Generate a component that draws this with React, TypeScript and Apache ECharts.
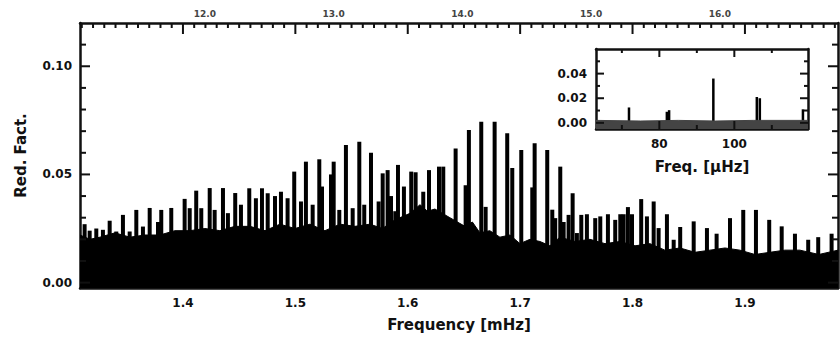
import React, { useEffect, useRef } from "react";
import * as echarts from "echarts";

// ---- main spectrum (frequency in mHz) ----
const FREQ_MIN = 1.3084;
const FREQ_MAX = 1.9828;
const POWER_MIN = -0.0025;
const POWER_MAX = 0.12;
const freqMajorTicks = [1.4, 1.5, 1.6, 1.7, 1.8, 1.9];

// alternative scale printed above the frame
const TOP_MIN = 11.03;
const TOP_MAX = 16.917;
const topTickValues = [12, 13, 14, 15, 16];
const topTickLabels = ["12.0", "13.0", "14.0", "15.0", "16.0"];

const powerMajorTicks = [0, 0.05, 0.1];
const powerMinorTicks = [0.01, 0.02, 0.03, 0.04, 0.06, 0.07, 0.08, 0.09, 0.11];

// individual peaks of the spectrum
const spikeFreq = [
  1.3125, 1.317, 1.3229, 1.3288, 1.3348, 1.3407, 1.3466, 1.3526, 1.3585, 1.3644,
  1.3704, 1.3778, 1.3807, 1.3896, 1.4015, 1.406, 1.4118, 1.4163, 1.4238, 1.4282,
  1.4356, 1.44, 1.4465, 1.4516, 1.459, 1.4649, 1.4703, 1.4754, 1.4819, 1.4872,
  1.4931, 1.499, 1.505, 1.5094, 1.5154, 1.5213, 1.5237, 1.5317, 1.5341, 1.5391,
  1.545, 1.551, 1.5569, 1.5613, 1.5673, 1.5741, 1.5777, 1.5821, 1.5851, 1.5889,
  1.5913, 1.5966, 1.6031, 1.607, 1.6138, 1.6189, 1.6278, 1.6316, 1.6426, 1.6515,
  1.6544, 1.6654, 1.6693, 1.6773, 1.6885, 1.693, 1.701, 1.7108, 1.7129, 1.7241,
  1.7286, 1.7312, 1.7357, 1.7387, 1.7431, 1.7467, 1.7505, 1.7544, 1.7594, 1.7668,
  1.7713, 1.7781, 1.7846, 1.7891, 1.7921, 1.7959, 1.7995, 1.8077, 1.8128, 1.8188,
  1.8232, 1.8306, 1.8366, 1.8424, 1.8544, 1.8662, 1.8748, 1.8867, 1.8985, 1.9098,
  1.9216, 1.9327, 1.9445, 1.9563, 1.9652, 1.9771,
];
const spikePower = [
  0.027, 0.024, 0.025, 0.0244, 0.0286, 0.0236, 0.0313, 0.0236, 0.0336, 0.0259,
  0.0345, 0.028, 0.0336, 0.0345, 0.0387, 0.0344, 0.0425, 0.0344, 0.0437, 0.0336,
  0.0437, 0.0321, 0.0414, 0.036, 0.0436, 0.039, 0.0436, 0.0413, 0.04, 0.042,
  0.039, 0.0513, 0.0375, 0.0559, 0.036, 0.057, 0.0444, 0.05, 0.0559, 0.0336,
  0.0636, 0.0344, 0.0651, 0.036, 0.06, 0.0375, 0.0505, 0.052, 0.04, 0.033,
  0.0544, 0.0444, 0.0513, 0.051, 0.042, 0.052, 0.0536, 0.0536, 0.062, 0.045,
  0.0705, 0.0743, 0.035, 0.0743, 0.069, 0.053, 0.0613, 0.044, 0.0644, 0.0613,
  0.0337, 0.0298, 0.0536, 0.028, 0.0313, 0.0413, 0.0229, 0.0313, 0.0316, 0.0298,
  0.0306, 0.0316, 0.029, 0.0316, 0.0316, 0.0349, 0.0316, 0.0386, 0.0306, 0.0375,
  0.0252, 0.0316, 0.0198, 0.0257, 0.0283, 0.0252, 0.0226, 0.0298, 0.0336, 0.0336,
  0.029, 0.026, 0.0226, 0.0198, 0.021, 0.0226,
];

// noise floor underneath the peaks
const floorFreq = [
  1.3084, 1.3172, 1.3262, 1.3395, 1.3528, 1.3662, 1.3795, 1.3928, 1.4062, 1.4195,
  1.4329, 1.4462, 1.4596, 1.473, 1.4863, 1.4996, 1.513, 1.5263, 1.5397, 1.553,
  1.5664, 1.5775, 1.5886, 1.602, 1.6109, 1.6175, 1.6242, 1.6375, 1.6509, 1.6575,
  1.6642, 1.673, 1.682, 1.691, 1.6998, 1.7087, 1.7176, 1.7265, 1.7354, 1.7488,
  1.7621, 1.7755, 1.7888, 1.8022, 1.8155, 1.8288, 1.8422, 1.8555, 1.8689, 1.8822,
  1.8955, 1.9089, 1.9222, 1.9355, 1.9489, 1.9658, 1.9828,
];
const floorPower = [
  0.022, 0.02, 0.021, 0.023, 0.021, 0.022, 0.022, 0.024, 0.024, 0.025,
  0.024, 0.026, 0.026, 0.024, 0.027, 0.025, 0.027, 0.024, 0.027, 0.026,
  0.027, 0.025, 0.029, 0.032, 0.036, 0.033, 0.034, 0.03, 0.026, 0.028,
  0.023, 0.024, 0.021, 0.022, 0.018, 0.02, 0.019, 0.017, 0.021, 0.019,
  0.02, 0.018, 0.019, 0.017, 0.018, 0.015, 0.016, 0.014, 0.015, 0.016,
  0.015, 0.013, 0.014, 0.015, 0.015, 0.013, 0.015,
];

// ---- inset: low-frequency part (µHz) ----
const INSET_MIN = 63.1;
const INSET_MAX = 119.65;
const INSET_PMIN = -0.005;
const INSET_PMAX = 0.06;
const insetMajorX = [80, 100];
const insetMinorX = [70, 90, 110];
const insetMajorY = [0, 0.02, 0.04];
const insetMinorY = [0.01, 0.03, 0.05];
const insetSpikeFreq = [71.9, 82.0, 82.6, 94.4, 106.0, 106.8, 118.3];
const insetSpikePower = [0.0125, 0.009, 0.0103, 0.036, 0.021, 0.02, 0.011];
const insetFloorFreq = [63.1, 75, 85, 95, 105, 119.65];
const insetFloorPower = [0.002, 0.0015, 0.002, 0.0015, 0.002, 0.002];

const FONT = "DejaVu Sans";
const INK = "#111";

const MAIN_GRID = { left: 80, top: 23, width: 758, height: 265 };
const INSET_GRID = { left: 596, top: 49, width: 212, height: 80 };

function minorFreqTicks(): number[] {
  const out: number[] = [];
  for (let i = 131; i <= 198; i++) {
    if (i % 10 !== 0) out.push(i / 100);
  }
  return out;
}

function frameAxis(base: any) {
  return {
    ...base,
    axisLine: { show: true, onZero: false, lineStyle: { color: INK, width: 2.5 } },
    axisTick: { show: false },
    axisLabel: { show: false },
    splitLine: { show: false },
  };
}

function labelStyle(values: number[], fmt: (v: number) => string, margin: number, size = 12, color = INK) {
  return {
    show: true,
    customValues: values,
    formatter: fmt,
    margin,
    fontFamily: FONT,
    fontWeight: "bold",
    fontSize: size,
    color,
  };
}

const titleStyle = { fontFamily: FONT, fontWeight: "bold", fontSize: 15, color: INK };

type TickSpec = { values: number[]; len: number };

// Inward tick marks on the sides of a panel as thin filled rectangles;
// positions come from the panel's own axes through convertToPixel.
function frameTickGraphics(
  chart: echarts.ECharts,
  xi: number,
  yi: number,
  xr: [number, number],
  yr: [number, number],
  xSpecs: TickSpec[],
  ySpecs: TickSpec[],
  withBottom: boolean
) {
  const finder = { xAxisIndex: xi, yAxisIndex: yi };
  const out: any[] = [];
  const bar = (x: number, y: number, w: number, h: number) =>
    out.push({
      type: "rect",
      silent: true,
      z: 100,
      shape: { x, y, width: w, height: h },
      style: { fill: INK },
    });
  xSpecs.forEach(({ values, len }) =>
    values.forEach((v) => {
      const b = chart.convertToPixel(finder as any, [v, yr[0]]) as number[];
      const t = chart.convertToPixel(finder as any, [v, yr[1]]) as number[];
      if (withBottom) bar(b[0] - 1, b[1] - len, 2, len);
      bar(t[0] - 1, t[1], 2, len);
    })
  );
  ySpecs.forEach(({ values, len }) =>
    values.forEach((v) => {
      const l = chart.convertToPixel(finder as any, [xr[0], v]) as number[];
      const r = chart.convertToPixel(finder as any, [xr[1], v]) as number[];
      bar(l[0], l[1] - 1, len, 2);
      bar(r[0] - len, r[1] - 1, len, 2);
    })
  );
  return out;
}

export default function App() {
  const ref = useRef<HTMLDivElement>(null);

  useEffect(() => {
    document.body.style.margin = "0";
    if (!ref.current) return;
    const chart = echarts.init(ref.current, undefined, { renderer: "svg" });

    const mainX = { type: "value", gridIndex: 0, min: FREQ_MIN, max: FREQ_MAX };
    const mainY = { type: "value", gridIndex: 0, min: POWER_MIN, max: POWER_MAX };
    const insX = { type: "value", gridIndex: 1, min: INSET_MIN, max: INSET_MAX };
    const insY = { type: "value", gridIndex: 1, min: INSET_PMIN, max: INSET_PMAX };

    const xBottomMain: any = frameAxis({ ...mainX, position: "bottom" });
    xBottomMain.axisLabel = labelStyle(freqMajorTicks, (v) => v.toFixed(1), 9);
    xBottomMain.name = "Frequency [mHz]";
    xBottomMain.nameLocation = "middle";
    xBottomMain.nameGap = 29;
    xBottomMain.nameTextStyle = titleStyle;

    const xTopLabels: any = {
      type: "value",
      gridIndex: 0,
      position: "top",
      min: TOP_MIN,
      max: TOP_MAX,
      axisLine: { show: false },
      axisTick: { show: false },
      splitLine: { show: false },
      axisLabel: labelStyle(
        topTickValues,
        (v) => topTickLabels[topTickValues.indexOf(Math.round(v))] ?? "",
        5,
        9,
        "#444"
      ),
    };

    const xBottomInset: any = frameAxis({ ...insX, position: "bottom" });
    xBottomInset.axisLabel = labelStyle(insetMajorX, (v) => String(Math.round(v)), 9);
    xBottomInset.name = "Freq. [\u03bcHz]";
    xBottomInset.nameLocation = "middle";
    xBottomInset.nameGap = 30;
    xBottomInset.nameTextStyle = titleStyle;

    const yLeftMain: any = frameAxis({ ...mainY, position: "left" });
    yLeftMain.axisLabel = labelStyle(powerMajorTicks, (v) => v.toFixed(2), 8);
    yLeftMain.name = "Red. Fact.";
    yLeftMain.nameLocation = "middle";
    yLeftMain.nameGap = 52;
    yLeftMain.nameTextStyle = titleStyle;

    const yLeftInset: any = frameAxis({ ...insY, position: "left" });
    yLeftInset.axisLabel = labelStyle(insetMajorY, (v) => v.toFixed(2), 9);

    chart.setOption({
      animation: false,
      backgroundColor: "#fff",
      grid: [
        { ...MAIN_GRID, containLabel: false, outerBoundsMode: "none" },
        { ...INSET_GRID, containLabel: false, outerBoundsMode: "none" },
      ],
      xAxis: [
        xBottomMain, // 0
        frameAxis({ ...mainX, position: "top" }), // 1
        xTopLabels, // 2
        xBottomInset, // 3
        frameAxis({ ...insX, position: "top" }), // 4
      ],
      yAxis: [
        yLeftMain, // 0
        frameAxis({ ...mainY, position: "right" }), // 1
        yLeftInset, // 2
        frameAxis({ ...insY, position: "right" }), // 3
      ],
      series: [
        {
          type: "line",
          xAxisIndex: 0,
          yAxisIndex: 0,
          data: floorFreq.map((f, i) => [f, floorPower[i]]),
          symbol: "none",
          lineStyle: { color: "#000", width: 1 },
          areaStyle: { color: "#000", opacity: 1, origin: "start" },
          silent: true,
        },
        {
          type: "bar",
          xAxisIndex: 0,
          yAxisIndex: 0,
          barWidth: 4,
          data: spikeFreq.map((f, i) => [f, spikePower[i]]),
          itemStyle: { color: "#000" },
          silent: true,
        },
        {
          type: "line",
          xAxisIndex: 3,
          yAxisIndex: 2,
          data: insetFloorFreq.map((f, i) => [f, insetFloorPower[i]]),
          symbol: "none",
          lineStyle: { color: "#444", width: 1 },
          areaStyle: { color: "#444", opacity: 1, origin: "start" },
          silent: true,
        },
        {
          type: "bar",
          xAxisIndex: 3,
          yAxisIndex: 2,
          barWidth: 2.5,
          data: insetSpikeFreq.map((f, i) => [f, insetSpikePower[i]]),
          itemStyle: { color: "#000" },
          silent: true,
        },
      ],
    });

    const minorF = minorFreqTicks();
    const ticks = [
      ...frameTickGraphics(
        chart,
        0,
        0,
        [FREQ_MIN, FREQ_MAX],
        [POWER_MIN, POWER_MAX],
        [
          { values: freqMajorTicks, len: 11 },
          { values: minorF, len: 5 },
        ],
        [
          { values: powerMajorTicks, len: 10 },
          { values: powerMinorTicks, len: 6 },
        ],
        false
      ),
      ...frameTickGraphics(
        chart,
        3,
        2,
        [INSET_MIN, INSET_MAX],
        [INSET_PMIN, INSET_PMAX],
        [
          { values: insetMajorX, len: 8 },
          { values: insetMinorX, len: 4 },
        ],
        [
          { values: insetMajorY, len: 8 },
          { values: insetMinorY, len: 4 },
        ],
        true
      ),
    ];
    chart.setOption({ graphic: { elements: ticks } });

    return () => chart.dispose();
  }, []);

  return <div ref={ref} style={{ width: 840, height: 337 }} />;
}
